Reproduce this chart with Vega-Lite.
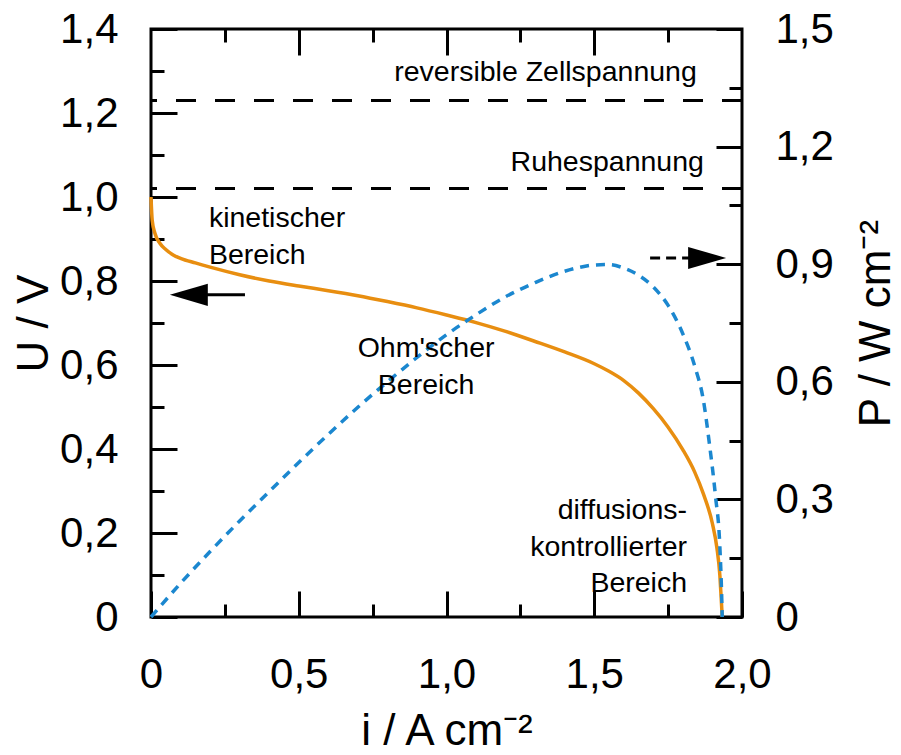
{
  "$schema": "https://vega.github.io/schema/vega-lite/v6.json",
  "width": 591,
  "height": 588,
  "autosize": {"type": "none"},
  "padding": {"left": 151, "top": 29, "right": 159, "bottom": 138},
  "background": "white",
  "datasets": {
    "uv": [
      {"i": 0, "U": 1.0}, {"i": 0.004, "U": 0.945}, {"i": 0.0135, "U": 0.913}, {"i": 0.03, "U": 0.89},
      {"i": 0.05, "U": 0.875}, {"i": 0.075, "U": 0.862}, {"i": 0.1, "U": 0.854}, {"i": 0.15, "U": 0.843},
      {"i": 0.2, "U": 0.833}, {"i": 0.3, "U": 0.815}, {"i": 0.4, "U": 0.8}, {"i": 0.5, "U": 0.788},
      {"i": 0.6, "U": 0.777}, {"i": 0.7, "U": 0.765}, {"i": 0.8, "U": 0.751}, {"i": 0.9, "U": 0.736},
      {"i": 1.0, "U": 0.719}, {"i": 1.1, "U": 0.701}, {"i": 1.2, "U": 0.68}, {"i": 1.3, "U": 0.656},
      {"i": 1.4, "U": 0.631}, {"i": 1.5, "U": 0.603}, {"i": 1.55, "U": 0.585}, {"i": 1.6, "U": 0.563},
      {"i": 1.65, "U": 0.533}, {"i": 1.7, "U": 0.496}, {"i": 1.75, "U": 0.452}, {"i": 1.8, "U": 0.398},
      {"i": 1.84, "U": 0.345}, {"i": 1.87, "U": 0.292}, {"i": 1.9, "U": 0.222}, {"i": 1.915, "U": 0.165},
      {"i": 1.925, "U": 0.1}, {"i": 1.93, "U": 0.04}, {"i": 1.933, "U": 0}
    ],
    "pv": [
      {"i": 0, "P": 0}, {"i": 0.1, "P": 0.086}, {"i": 0.2, "P": 0.167}, {"i": 0.3, "P": 0.245},
      {"i": 0.4, "P": 0.32}, {"i": 0.5, "P": 0.394}, {"i": 0.6, "P": 0.466}, {"i": 0.7, "P": 0.535},
      {"i": 0.8, "P": 0.6}, {"i": 0.9, "P": 0.662}, {"i": 1.0, "P": 0.72}, {"i": 1.1, "P": 0.771},
      {"i": 1.2, "P": 0.817}, {"i": 1.3, "P": 0.853}, {"i": 1.4, "P": 0.882}, {"i": 1.45, "P": 0.892},
      {"i": 1.5, "P": 0.898}, {"i": 1.55, "P": 0.899}, {"i": 1.6, "P": 0.89}, {"i": 1.65, "P": 0.872},
      {"i": 1.7, "P": 0.842}, {"i": 1.75, "P": 0.795}, {"i": 1.8, "P": 0.722}, {"i": 1.84, "P": 0.64},
      {"i": 1.87, "P": 0.55}, {"i": 1.89, "P": 0.44}, {"i": 1.91, "P": 0.31}, {"i": 1.925, "P": 0.18},
      {"i": 1.931, "P": 0.06}, {"i": 1.933, "P": 0}
    ]
  },
  "config": {
    "view": {"stroke": "black", "strokeWidth": 3},
    "axis": {
      "domain": false, "grid": false, "tickColor": "black", "tickWidth": 3,
      "labelFont": "Liberation Sans", "labelFontSize": 42, "labelColor": "black",
      "labelFlush": false, "labelOverlap": false,
      "titleFont": "Liberation Sans", "titleFontSize": 44, "titleFontWeight": "normal", "titleColor": "black"
    },
    "text": {"font": "Liberation Sans", "fontSize": 28.5, "color": "black"}
  },
  "resolve": {
    "scale": {"y": "independent"},
    "axis": {"x": "independent", "y": "independent"}
  },
  "layer": [
    {
      "data": {"name": "uv"},
      "mark": {"type": "line", "color": "#e88e10", "strokeWidth": 3.5, "interpolate": "monotone"},
      "encoding": {
        "x": {"field": "i", "type": "quantitative", "scale": {"domain": [0, 2], "nice": false},
          "axis": {"orient": "bottom", "values": [0, 0.5, 1, 1.5, 2], "tickSize": -26, "labelPadding": 63,
            "labelExpr": "datum.value == 0 ? '0' : replace(format(datum.value, '.1f'), '.', ',')",
            "title": "i / A cm⁻²", "titlePadding": 14}},
        "y": {"field": "U", "type": "quantitative", "scale": {"domain": [0, 1.4], "nice": false},
          "axis": {"orient": "left", "values": [0, 0.2, 0.4, 0.6, 0.8, 1.0, 1.2, 1.4], "tickSize": -26, "labelPadding": 59,
            "labelExpr": "datum.value == 0 ? '0' : replace(format(datum.value, '.1f'), '.', ',')",
            "title": "U / V", "titlePadding": 3}},
        "order": {"field": "i", "type": "quantitative"}
      }
    },
    {
      "data": {"name": "pv"},
      "mark": {"type": "line", "color": "#1b87cf", "strokeWidth": 3.5, "strokeDash": [9, 7], "interpolate": "monotone"},
      "encoding": {
        "x": {"field": "i", "type": "quantitative", "scale": {"domain": [0, 2], "nice": false},
          "axis": {"orient": "top", "values": [0.5, 1, 1.5], "tickSize": -26, "labels": false, "title": null}},
        "y": {"field": "P", "type": "quantitative", "scale": {"domain": [0, 1.5], "nice": false},
          "axis": {"orient": "right", "values": [0, 0.3, 0.6, 0.9, 1.2, 1.5], "tickSize": -26, "labelPadding": 59,
            "labelExpr": "datum.value == 0 ? '0' : replace(format(datum.value, '.1f'), '.', ',')",
            "title": "P / W cm⁻²", "titleAngle": 270, "titleBaseline": "top", "titlePadding": 21}},
        "order": {"field": "i", "type": "quantitative"}
      }
    },
    {
      "data": {"values": [{"name": "reversible Zellspannung", "U": 1.23}, {"name": "Ruhespannung", "U": 1.02}]},
      "mark": {"type": "rule", "color": "black", "strokeWidth": 3, "strokeDash": [20, 19]},
      "encoding": {
        "y": {"field": "U", "type": "quantitative", "scale": {"domain": [0, 1.4], "nice": false},
          "axis": {"orient": "left", "values": [0.1, 0.3, 0.5, 0.7, 0.9, 1.1, 1.3], "tickSize": -13, "labels": false, "title": null}}
      }
    },
    {
      "data": {"values": [
        {"t": "reversible Zellspannung", "i": 1.335, "U": 1.298},
        {"t": "Ruhespannung", "i": 1.544, "U": 1.084},
        {"t": "Ohm'scher", "i": 0.931, "U": 0.64},
        {"t": "Bereich", "i": 0.931, "U": 0.552}
      ]},
      "mark": {"type": "text", "align": "center", "baseline": "middle"},
      "encoding": {
        "x": {"field": "i", "type": "quantitative", "scale": {"domain": [0, 2], "nice": false},
          "axis": {"orient": "bottom", "values": [0.25, 0.75, 1.25, 1.75], "tickSize": -13, "labels": false, "title": null}},
        "y": {"field": "U", "type": "quantitative", "scale": {"domain": [0, 1.4], "nice": false}, "axis": null},
        "text": {"field": "t"}
      }
    },
    {
      "data": {"values": [
        {"t": "kinetischer", "i": 0.196, "U": 0.95},
        {"t": "Bereich", "i": 0.196, "U": 0.862}
      ]},
      "mark": {"type": "text", "align": "left", "baseline": "middle"},
      "encoding": {
        "x": {"field": "i", "type": "quantitative", "scale": {"domain": [0, 2], "nice": false},
          "axis": {"orient": "top", "values": [0.25, 0.75, 1.25, 1.75], "tickSize": -13, "labels": false, "title": null}},
        "y": {"field": "U", "type": "quantitative", "scale": {"domain": [0, 1.4], "nice": false}, "axis": null},
        "text": {"field": "t"}
      }
    },
    {
      "data": {"values": [
        {"t": "diffusions-", "i": 1.814, "U": 0.255},
        {"t": "kontrollierter", "i": 1.814, "U": 0.167},
        {"t": "Bereich", "i": 1.814, "U": 0.081}
      ]},
      "mark": {"type": "text", "align": "right", "baseline": "middle"},
      "encoding": {
        "x": {"field": "i", "type": "quantitative", "scale": {"domain": [0, 2], "nice": false}, "axis": null},
        "y": {"field": "U", "type": "quantitative", "scale": {"domain": [0, 1.4], "nice": false}, "axis": null},
        "text": {"field": "t"}
      }
    },
    {
      "data": {"values": [{"i": 0.128, "i2": 0.318, "U": 0.767}]},
      "mark": {"type": "rule", "color": "black", "strokeWidth": 3},
      "encoding": {
        "x": {"field": "i", "type": "quantitative", "scale": {"domain": [0, 2], "nice": false}, "axis": null},
        "x2": {"field": "i2"},
        "y": {"field": "U", "type": "quantitative", "scale": {"domain": [0, 1.4], "nice": false}, "axis": null}
      }
    },
    {
      "data": {"values": [{"i": 0.128, "U": 0.767}]},
      "mark": {"type": "point", "shape": "M-1,0L1,-0.58L1,0.58Z", "size": 1444, "filled": true, "color": "black", "opacity": 1, "strokeWidth": 0},
      "encoding": {
        "x": {"field": "i", "type": "quantitative", "scale": {"domain": [0, 2], "nice": false}, "axis": null},
        "y": {"field": "U", "type": "quantitative", "scale": {"domain": [0, 1.4], "nice": false}, "axis": null}
      }
    },
    {
      "data": {"values": [{"i": 1.689, "i2": 1.85, "P": 0.916}]},
      "mark": {"type": "rule", "color": "black", "strokeWidth": 3, "strokeDash": [10, 6]},
      "encoding": {
        "x": {"field": "i", "type": "quantitative", "scale": {"domain": [0, 2], "nice": false}, "axis": null},
        "x2": {"field": "i2"},
        "y": {"field": "P", "type": "quantitative", "scale": {"domain": [0, 1.5], "nice": false},
          "axis": {"orient": "right", "values": [0.15, 0.45, 0.75, 1.05, 1.35], "tickSize": -13, "labels": false, "title": null}}
      }
    },
    {
      "data": {"values": [{"i": 1.882, "P": 0.916}]},
      "mark": {"type": "point", "shape": "M1,0L-1,-0.58L-1,0.58Z", "size": 1444, "filled": true, "color": "black", "opacity": 1, "strokeWidth": 0},
      "encoding": {
        "x": {"field": "i", "type": "quantitative", "scale": {"domain": [0, 2], "nice": false}, "axis": null},
        "y": {"field": "P", "type": "quantitative", "scale": {"domain": [0, 1.5], "nice": false}, "axis": null}
      }
    }
  ]
}
